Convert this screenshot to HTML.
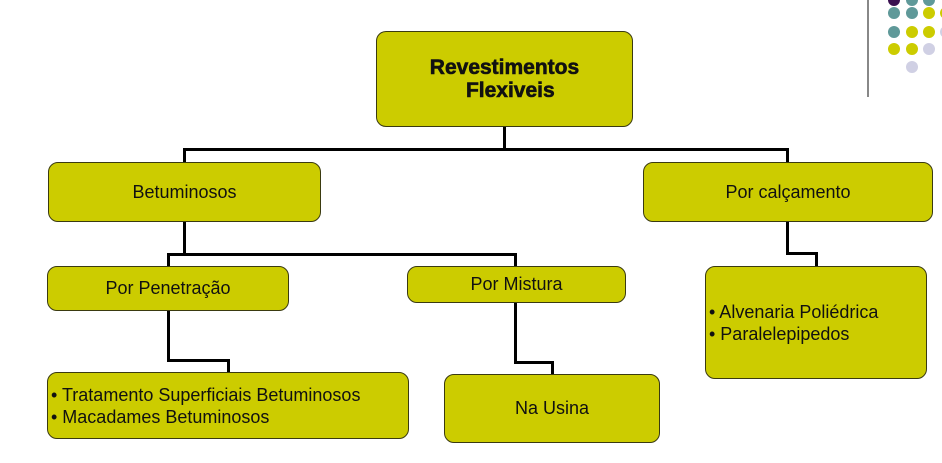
<!DOCTYPE html>
<html><head><meta charset="utf-8"><style>
body{margin:0;width:942px;height:463px;background:#fff;overflow:hidden;position:relative;font-family:"Liberation Sans",sans-serif;}
.b{position:absolute;background:#cccc00;border:1px solid #3a3a10;border-radius:10px;box-sizing:border-box;color:#111;font-size:18px;display:flex;align-items:center;justify-content:center;text-align:center}
.l{position:absolute;background:#000}
.d{position:absolute;width:12px;height:12px;border-radius:50%}
.t{justify-content:flex-start;text-align:left;padding-left:3px;line-height:22px}
</style></head><body>
<div class="l" style="left:867px;top:0;width:2px;height:97px;background:#888"></div>
<div class="d" style="left:888px;top:-6px;background:#3a1050"></div>
<div class="d" style="left:906px;top:-6px;background:#5f9999"></div>
<div class="d" style="left:923px;top:-6px;background:#5f9999"></div>
<div class="d" style="left:888px;top:7px;background:#5f9999"></div>
<div class="d" style="left:906px;top:7px;background:#5f9999"></div>
<div class="d" style="left:923px;top:7px;background:#cccc00"></div>
<div class="d" style="left:940px;top:7px;background:#cccc00"></div>
<div class="d" style="left:888px;top:26px;background:#5f9999"></div>
<div class="d" style="left:906px;top:26px;background:#cccc00"></div>
<div class="d" style="left:923px;top:26px;background:#cccc00"></div>
<div class="d" style="left:940px;top:26px;background:#d0d0e4"></div>
<div class="d" style="left:888px;top:43px;background:#cccc00"></div>
<div class="d" style="left:906px;top:43px;background:#cccc00"></div>
<div class="d" style="left:923px;top:43px;background:#d0d0e4"></div>
<div class="d" style="left:906px;top:61px;background:#d0d0e4"></div>

<div class="l" style="left:503px;top:127px;width:3px;height:23px"></div>
<div class="l" style="left:183px;top:148px;width:606px;height:3px"></div>
<div class="l" style="left:183px;top:148px;width:3px;height:15px"></div>
<div class="l" style="left:786px;top:148px;width:3px;height:15px"></div>
<div class="l" style="left:183px;top:222px;width:3px;height:33px"></div>
<div class="l" style="left:167px;top:253px;width:350px;height:3px"></div>
<div class="l" style="left:167px;top:253px;width:3px;height:14px"></div>
<div class="l" style="left:514px;top:253px;width:3px;height:14px"></div>
<div class="l" style="left:786px;top:222px;width:3px;height:33px"></div>
<div class="l" style="left:786px;top:252px;width:31px;height:3px"></div>
<div class="l" style="left:815px;top:252px;width:3px;height:15px"></div>
<div class="l" style="left:167px;top:311px;width:3px;height:50px"></div>
<div class="l" style="left:167px;top:359px;width:63px;height:3px"></div>
<div class="l" style="left:227px;top:359px;width:3px;height:14px"></div>
<div class="l" style="left:514px;top:303px;width:3px;height:60px"></div>
<div class="l" style="left:514px;top:361px;width:40px;height:3px"></div>
<div class="l" style="left:551px;top:361px;width:3px;height:14px"></div>

<div class="b" style="left:376px;top:31px;width:257px;height:96px;font-weight:bold;font-size:21px;line-height:23px;-webkit-text-stroke:0.6px #111">Revestimentos<br>&nbsp;&nbsp;Flexiveis</div>
<div class="b" style="left:48px;top:162px;width:273px;height:60px">Betuminosos</div>
<div class="b" style="left:643px;top:162px;width:290px;height:60px">Por calçamento</div>
<div class="b" style="left:47px;top:266px;width:242px;height:45px">Por Penetração</div>
<div class="b" style="left:407px;top:266px;width:219px;height:37px">Por Mistura</div>
<div class="b t" style="left:705px;top:266px;width:222px;height:113px">• Alvenaria Poliédrica<br>• Paralelepipedos</div>
<div class="b t" style="left:47px;top:372px;width:362px;height:67px">• Tratamento Superficiais Betuminosos<br>• Macadames Betuminosos</div>
<div class="b" style="left:444px;top:374px;width:216px;height:69px">Na Usina</div>
</body></html>
